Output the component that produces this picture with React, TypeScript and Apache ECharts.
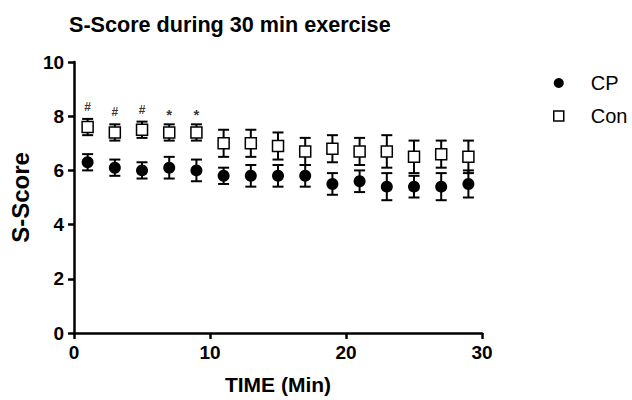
import React, { useEffect, useRef } from "react";
import * as echarts from "echarts";

const times = [1, 3, 5, 7, 9, 11, 13, 15, 17, 19, 21, 23, 25, 27, 29];
const cpMean = [6.3, 6.1, 6.0, 6.1, 6.0, 5.8, 5.8, 5.8, 5.8, 5.5, 5.6, 5.4, 5.4, 5.4, 5.5];
const cpErr = [0.3, 0.3, 0.3, 0.4, 0.4, 0.3, 0.4, 0.4, 0.4, 0.4, 0.4, 0.5, 0.4, 0.5, 0.5];
const conMean = [7.6, 7.4, 7.5, 7.4, 7.4, 7.0, 7.0, 6.9, 6.7, 6.8, 6.7, 6.7, 6.5, 6.6, 6.5];
const conErr = [0.3, 0.3, 0.3, 0.3, 0.3, 0.5, 0.5, 0.5, 0.5, 0.5, 0.5, 0.6, 0.6, 0.5, 0.6];
const annIndex = [0, 1, 2, 3, 4];
const annText = ["#", "#", "#", "*", "*"];
const xTicks = [0, 10, 20, 30];
const yTicks = [0, 2, 4, 6, 8, 10];

const FONT = "Liberation Sans, Arial, sans-serif";

function errorSeries(name: string, mean: number[], err: number[]) {
  return {
    type: "custom",
    name: name + "-err",
    silent: true,
    z: 2,
    data: times.map((t, i) => [t, mean[i] - err[i], mean[i] + err[i]]),
    encode: { x: 0, y: [1, 2] },
    renderItem: (params: any, api: any) => {
      const x = api.value(0);
      const lo = api.coord([x, api.value(1)]);
      const hi = api.coord([x, api.value(2)]);
      const hw = 5.5;
      const style = { stroke: "#000", lineWidth: 2 };
      return {
        type: "group",
        children: [
          { type: "line", shape: { x1: lo[0], y1: lo[1], x2: hi[0], y2: hi[1] }, style },
          { type: "line", shape: { x1: lo[0] - hw, y1: lo[1], x2: lo[0] + hw, y2: lo[1] }, style },
          { type: "line", shape: { x1: hi[0] - hw, y1: hi[1], x2: hi[0] + hw, y2: hi[1] }, style },
        ],
      };
    },
  };
}

export default function App() {
  const ref = useRef<HTMLDivElement>(null);
  useEffect(() => {
    if (!ref.current) return;
    const chart = echarts.init(ref.current, undefined, { renderer: "svg" });
    chart.setOption({
      animation: false,
      backgroundColor: "#fff",
      textStyle: { fontFamily: FONT },
      title: {
        text: "S-Score during 30 min exercise",
        left: 64,
        top: 8,
        textStyle: { fontFamily: FONT, fontSize: 21.6, fontWeight: "bold", color: "#000" },
      },
      legend: {
        orient: "vertical",
        left: 548,
        top: 68,
        itemGap: 13,
        itemWidth: 10,
        itemHeight: 10,
        textStyle: { fontFamily: FONT, fontSize: 20, color: "#000", padding: [0, 0, 0, 22] },
        data: [
          { name: "CP", icon: "circle", itemStyle: { color: "#000", borderWidth: 0 } },
          { name: "Con", icon: "rect", itemStyle: { color: "#fff", borderColor: "#000", borderWidth: 1.5 } },
        ],
      },
      grid: { left: 73, right: 150, top: 62, bottom: 66 },
      xAxis: {
        type: "value",
        min: 0,
        max: 30,
        interval: 10,
        name: "TIME (Min)",
        nameLocation: "middle",
        nameGap: 41,
        nameTextStyle: { fontFamily: FONT, fontSize: 21, fontWeight: "bold", color: "#000" },
        splitLine: { show: false },
        axisLine: { lineStyle: { color: "#000", width: 2.5 } },
        axisTick: { show: true, length: 6, lineStyle: { color: "#000", width: 2.5 } },
        axisLabel: {
          fontFamily: FONT, fontSize: 19, fontWeight: "bold", color: "#000", margin: 10,
          customValues: xTicks,
        },
      },
      yAxis: {
        type: "value",
        min: 0,
        max: 10,
        interval: 2,
        name: "S-Score",
        nameLocation: "middle",
        nameGap: 30,
        nameTextStyle: { fontFamily: FONT, fontSize: 24, fontWeight: "bold", color: "#000" },
        splitLine: { show: false },
        axisLine: { show: true, lineStyle: { color: "#000", width: 2.5 } },
        axisTick: { show: true, length: 6, lineStyle: { color: "#000", width: 2.5 } },
        axisLabel: {
          fontFamily: FONT, fontSize: 19, fontWeight: "bold", color: "#000", margin: 10,
          customValues: yTicks,
        },
      },
      series: [
        errorSeries("CP", cpMean, cpErr),
        errorSeries("Con", conMean, conErr),
        {
          type: "scatter",
          name: "CP",
          z: 3,
          symbol: "circle",
          symbolSize: 12,
          itemStyle: { color: "#000", opacity: 1 },
          data: times.map((t, i) => [t, cpMean[i]]),
        },
        {
          type: "scatter",
          name: "Con",
          z: 4,
          symbol: "rect",
          symbolSize: 11,
          itemStyle: { color: "#fff", borderColor: "#000", borderWidth: 1.5, opacity: 1 },
          data: times.map((t, i) => [t, conMean[i]]),
        },
        {
          type: "scatter",
          name: "annotations",
          z: 5,
          symbolSize: 0,
          silent: true,
          data: annIndex.map((i, k) => ({
            value: [times[i], conMean[i] + conErr[i]],
            label: {
              show: true,
              position: "top",
              distance: annText[k] === "#" ? 6 : 2,
              formatter: annText[k],
              fontFamily: FONT,
              fontSize: annText[k] === "#" ? 12 : 15,
              fontWeight: "bold",
              color: "#000",
            },
          })),
        },
      ],
    });
    return () => chart.dispose();
  }, []);
  return (
    <div
      ref={ref}
      style={{ position: "absolute", left: 0, top: 0, width: 632, height: 400 }}
    />
  );
}
